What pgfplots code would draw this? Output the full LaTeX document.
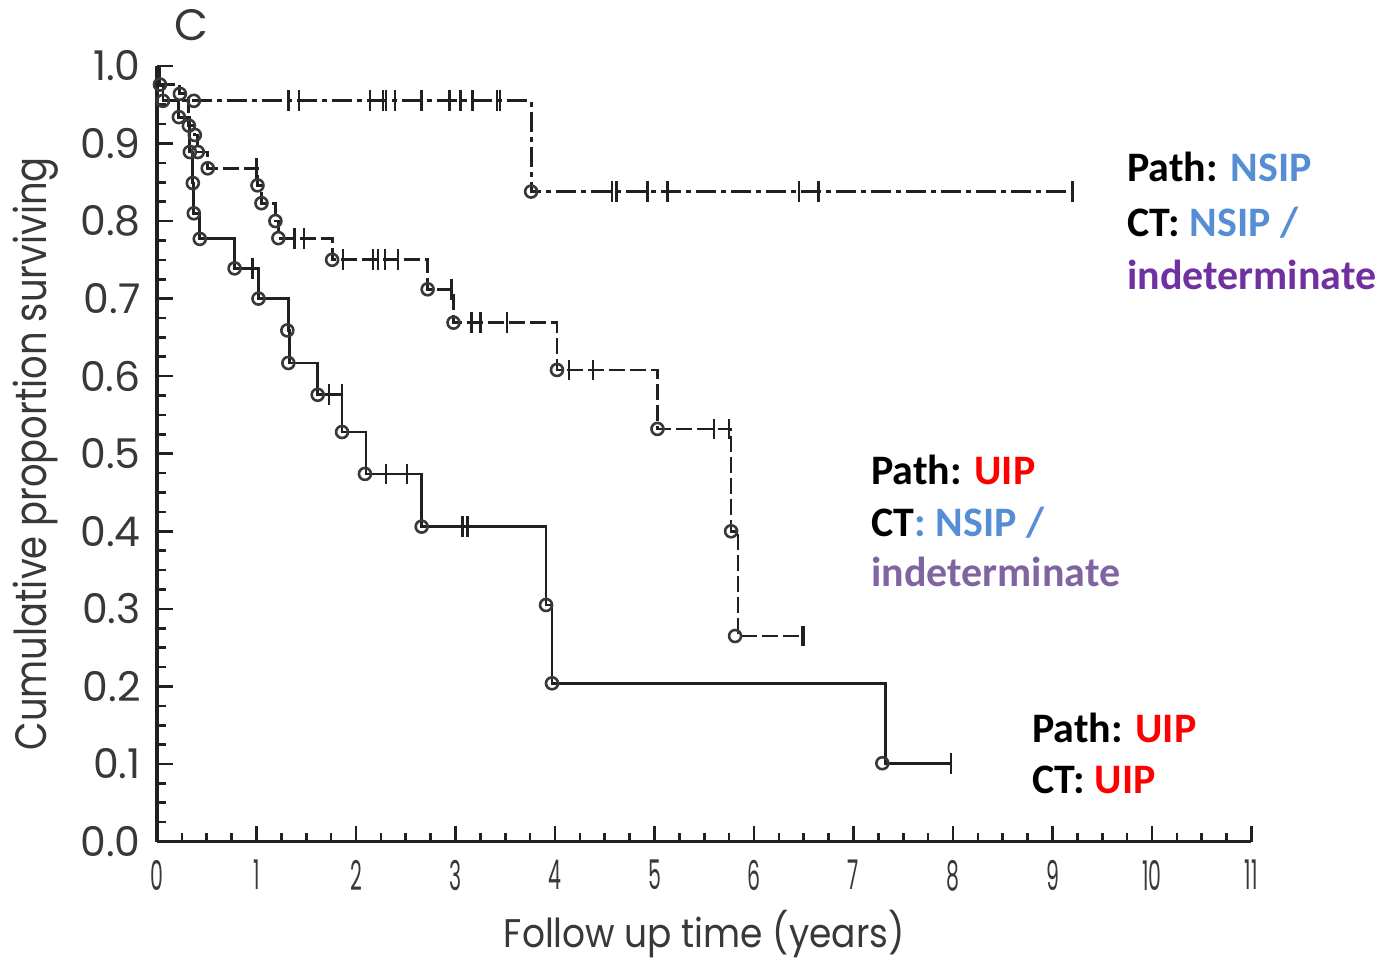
\documentclass[border=0pt]{standalone}
\usepackage{fontspec}
\setmainfont{Poppins}
\newfontfamily\calibri{Carlito}
\usepackage{graphicx}
\usepackage{pgfplots}
\pgfplotsset{compat=1.18}
\definecolor{nsipblue}{HTML}{558ED5}
\definecolor{purpleA}{HTML}{7030A0}
\definecolor{purpleB}{HTML}{8064A2}
\definecolor{uipred}{HTML}{FF0000}
\definecolor{ink}{HTML}{231F20}
\newcommand\sx[1]{\scalebox{0.5}[1]{#1}}
\begin{document}
\begin{tikzpicture}
\begin{axis}[
  scale only axis, width=547.5pt, height=388pt,
  xmin=0, xmax=11, ymin=0, ymax=1,
  clip=false,
  axis x line=bottom, axis y line=left,
  axis line style={-, line width=1.6pt, ink},
  xtick={0,1,2,3,4,5,6,7,8,9,10,11},
  xticklabels={\sx{0},\sx{1},\sx{2},\sx{3},\sx{4},\sx{5},\sx{6},\sx{7},\sx{8},\sx{9},\sx{10},\sx{11}},
  ytick={0,0.1,0.2,0.3,0.4,0.5,0.6,0.7,0.8,0.9,1.0},
  minor x tick num=3, minor y tick num=3,
  tick align=inside,
  major tick length=8pt, minor tick length=4.5pt,
  every tick/.style={line width=1.3pt, ink},
  /pgf/number format/assume math mode=true,
  yticklabel style={/pgf/number format/fixed, /pgf/number format/fixed zerofill, /pgf/number format/precision=1},
  ticklabel style={font=\fontsize{20.5}{20.5}\selectfont, text=black!78, inner sep=0pt},
  yticklabel style={anchor=east, xshift=-8pt},
  xticklabel style={anchor=north, yshift=-9pt},
  xlabel={\scalebox{0.9}[1]{Follow up time (years)}},
  ylabel={\scalebox{0.84}[1]{Cumulative proportion surviving}},
  label style={font=\fontsize{22}{22}\selectfont, text=black!78},
  xlabel style={font=\fontsize{20}{20}\selectfont, at={(axis description cs:0.5,-0.119)}, anchor=center},
  ylabel style={at={(axis description cs:-0.111,0.5)}, anchor=center},
]
% Path NSIP, CT NSIP/indeterminate (dash-dot)
\addplot[const plot, ink, line width=1.4pt, dash pattern=on 10pt off 2.5pt on 2.5pt off 2.5pt]
  coordinates {(0,1) (0.03,0.976) (0.06,0.955) (3.76,0.838) (9.2,0.838)};
% Path UIP, CT NSIP/indeterminate (dashed)
\addplot[const plot, ink, line width=1.4pt, dash pattern=on 8pt off 2.5pt]
  coordinates {(0,1) (0.03,0.976) (0.23,0.964) (0.32,0.923) (0.38,0.911) (0.41,0.889) (0.51,0.868)
   (1.01,0.846) (1.05,0.823) (1.19,0.800) (1.22,0.778) (1.76,0.750) (2.72,0.712)
   (2.98,0.669) (4.02,0.608) (5.03,0.532) (5.77,0.400) (5.84,0.265) (6.50,0.265)};
% Path UIP, CT UIP (solid)
\addplot[const plot, ink, line width=1.4pt]
  coordinates {(0,1) (0.03,0.976) (0.06,0.955) (0.22,0.934) (0.33,0.889) (0.36,0.849) (0.37,0.810) (0.43,0.777)
   (0.78,0.739) (1.02,0.700) (1.32,0.659) (1.33,0.617) (1.615,0.576) (1.86,0.528)
   (2.10,0.474) (2.66,0.406) (3.91,0.305) (3.97,0.204) (7.32,0.101) (7.98,0.101)};
% censored observations
\addplot[only marks, mark=|, mark size=5.2pt, ink, mark options={line width=1.2pt, solid}]
  coordinates {(1.32,0.955) (1.43,0.955) (2.14,0.955) (2.27,0.955) (2.30,0.955) (2.39,0.955)
   (2.66,0.955) (2.94,0.955) (3.05,0.955) (3.17,0.955) (3.42,0.955) (3.45,0.955)
   (4.57,0.838) (4.62,0.838) (4.93,0.838) (5.13,0.838) (6.45,0.838) (6.65,0.838) (9.2,0.838)};
\addplot[only marks, mark=|, mark size=5.2pt, ink, mark options={line width=1.2pt, solid}]
  coordinates {(1.00,0.868) (1.38,0.778) (1.48,0.778) (1.87,0.750) (2.17,0.750) (2.22,0.750)
   (2.29,0.750) (2.42,0.750) (2.96,0.712) (3.16,0.669) (3.25,0.669) (3.52,0.669)
   (4.14,0.608) (4.38,0.608) (5.60,0.532) (5.75,0.532) (6.48,0.265) (6.50,0.265)};
\addplot[only marks, mark=|, mark size=5.2pt, ink, mark options={line width=1.2pt, solid}]
  coordinates {(0.96,0.739) (1.73,0.576) (1.86,0.576) (2.30,0.474) (2.51,0.474)
   (3.07,0.406) (3.12,0.406) (7.98,0.101)};
% events (circles)
\addplot[only marks, mark=o, mark size=3pt, mark options={draw=black!78, fill=white, line width=1.3pt, solid}]
  coordinates {(0.03,0.976) (0.06,0.955) (0.37,0.955) (3.76,0.838)};
\addplot[only marks, mark=o, mark size=3pt, mark options={draw=black!78, fill=white, line width=1.3pt, solid}]
  coordinates {(0.23,0.964) (0.32,0.923) (0.38,0.911) (0.41,0.889) (0.51,0.868)
   (1.01,0.846) (1.05,0.823) (1.19,0.800) (1.22,0.778) (1.76,0.750) (2.72,0.712)
   (2.98,0.669) (4.02,0.608) (5.03,0.532) (5.77,0.400) (5.81,0.265)};
\addplot[only marks, mark=o, mark size=3pt, mark options={draw=black!78, fill=white, line width=1.3pt, solid}]
  coordinates {(0.22,0.934) (0.33,0.889) (0.36,0.849) (0.37,0.810) (0.43,0.777)
   (0.78,0.739) (1.02,0.700) (1.31,0.659) (1.32,0.617) (1.615,0.576) (1.86,0.528)
   (2.09,0.474) (2.66,0.406) (3.91,0.305) (3.97,0.204) (7.29,0.101)};
% panel letter
\node[font=\fontsize{22}{22}\selectfont, text=black!78] at (axis cs:0.342,1.053) {C};
% annotations
\begin{scope}[every node/.style={anchor=base west, inner sep=0pt, font=\calibri\bfseries\fontsize{21}{21}\selectfont}]
\node at (axis cs:9.749,0.8505) {Path: \textcolor{nsipblue}{NSIP}};
\node at (axis cs:9.749,0.7803) {CT: \textcolor{nsipblue}{NSIP /}};
\node at (axis cs:9.749,0.7113) {\textcolor{purpleA}{indeterminate}};
\node at (axis cs:7.176,0.4600) {Path: \textcolor{uipred}{UIP}};
\node at (axis cs:7.176,0.3937) {CT\textcolor{nsipblue}{: NSIP /}};
\node at (axis cs:7.176,0.3286) {\textcolor{purpleB}{indeterminate}};
\node at (axis cs:8.794,0.1276) {Path: \textcolor{uipred}{UIP}};
\node at (axis cs:8.794,0.0619) {CT: \textcolor{uipred}{UIP}};
\end{scope}
\coordinate (bbsw) at (axis cs:-1.578,-0.156);
\coordinate (bbne) at (axis cs:12.322,1.085);
\end{axis}
\pgfresetboundingbox
\path[use as bounding box] (bbsw) rectangle (bbne);
\end{tikzpicture}
\end{document}
